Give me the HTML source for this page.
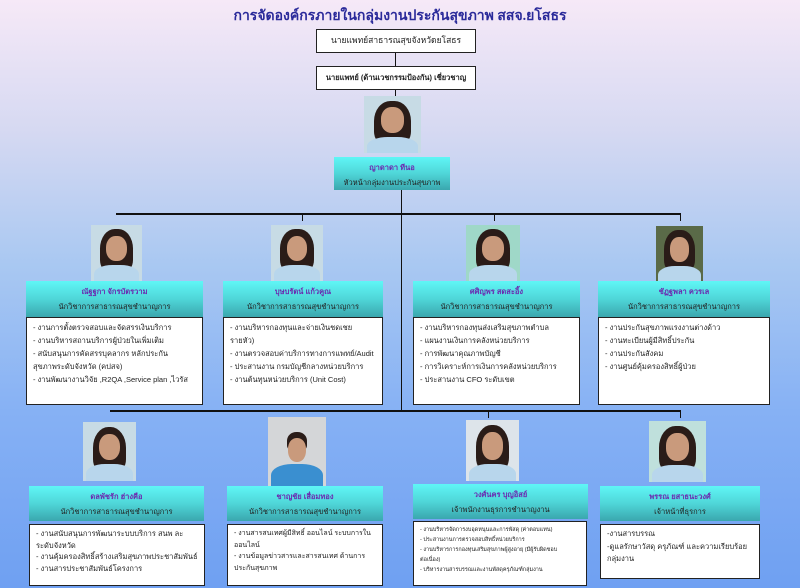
<!DOCTYPE html>
<html><head><meta charset="utf-8"><style>
*{margin:0;padding:0;box-sizing:border-box}
body{width:800px;height:588px;position:relative;overflow:hidden;font-family:"Liberation Sans","Noto Sans CJK SC",sans-serif;background:linear-gradient(180deg,#f6e9f7 0%,#d6d9f2 22%,#a9c8f2 45%,#86b1f4 70%,#6fa0f2 100%)}
.a{position:absolute}
.t{left:0;width:800px;top:5px;text-align:center;color:#2a2a9a;font-size:14px;font-weight:bold;font-family:"Liberation Serif","Noto Serif CJK SC",serif}
.bx{background:#fff;border:1.5px solid #222;font-size:8.5px;text-align:center;color:#222;white-space:nowrap}
.ln{background:#111}
.cy{background:linear-gradient(180deg,#5ff6f6 0%,#4fd6d8 50%,#3aa7ae 100%);text-align:center;font-size:7.5px;color:#222;line-height:15px;padding-top:3px;white-space:nowrap}
.cy b{color:#6b2bb0;font-weight:bold;display:block}
.wb{background:#fff;border:1.5px solid #222;font-size:7.5px;color:#222;line-height:13px;padding:3px 6px}
.ph{overflow:hidden;background:#c7dbe5}
.ph .h{position:absolute;left:18%;top:8%;width:64%;height:78%;background:#2a1c18;border-radius:45% 45% 30% 30%}
.ph .f{position:absolute;left:30%;top:20%;width:40%;height:45%;background:#c99a7c;border-radius:45%}
.ph .s{position:absolute;left:5%;top:72%;width:90%;height:40%;background:#b8d6ec;border-radius:40% 40% 0 0}
</style></head><body>
<div class="a t">การจัดองค์กรภายในกลุ่มงานประกันสุขภาพ สสจ.ยโสธร</div>
<div class="a bx" style="left:316px;top:29px;width:160px;height:24px;line-height:21px">นายแพทย์สาธารณสุขจังหวัดยโสธร</div>
<div class="a ln" style="left:395px;top:53px;width:1px;height:13px"></div>
<div class="a bx" style="left:316px;top:66px;width:160px;height:24px;line-height:21px;font-weight:bold;font-size:7.5px">นายแพทย์ (ด้านเวชกรรมป้องกัน) เชี่ยวชาญ</div>
<div class="a ln" style="left:395px;top:90px;width:1px;height:6px"></div>
<div class="a ph" style="left:364px;top:96px;width:57px;height:57px"><div class="h"></div><div class="f"></div><div class="s"></div></div>
<div class="a cy" style="left:334px;top:157px;width:116px;height:33px"><b>ญาดาดา ทีนอ</b>หัวหน้ากลุ่มงานประกันสุขภาพ</div>
<div class="a ln" style="left:401px;top:190px;width:1px;height:220px"></div>
<div class="a ln" style="left:116px;top:213px;width:565px;height:1.5px"></div>
<div class="a ln" style="left:302px;top:213px;width:1px;height:8px"></div>
<div class="a ln" style="left:494px;top:213px;width:1px;height:8px"></div>
<div class="a ln" style="left:680px;top:213px;width:1px;height:8px"></div>
<div class="a ln" style="left:110px;top:410px;width:571px;height:1.5px"></div>
<div class="a ln" style="left:488px;top:410px;width:1px;height:8px"></div>
<div class="a ln" style="left:680px;top:410px;width:1px;height:8px"></div>

<div class="a ph" style="left:91px;top:225px;width:51px;height:56px"><div class="h"></div><div class="f"></div><div class="s"></div></div>
<div class="a ph" style="left:271px;top:225px;width:52px;height:56px"><div class="h"></div><div class="f"></div><div class="s"></div></div>
<div class="a ph" style="left:466px;top:225px;width:54px;height:56px;background:#9fd8c8"><div class="h"></div><div class="f"></div><div class="s"></div></div>
<div class="a ph" style="left:656px;top:226px;width:47px;height:55px;background:#5a6a48"><div class="h"></div><div class="f"></div><div class="s"></div></div>

<div class="a cy" style="left:26px;top:281px;width:177px;height:36px"><b>ณัฐฐกา จักรบัตรวาม</b>นักวิชาการสาธารณสุขชำนาญการ</div>
<div class="a cy" style="left:223px;top:281px;width:160px;height:36px"><b>บุษบรัตน์ แก้วคูณ</b>นักวิชาการสาธารณสุขชำนาญการ</div>
<div class="a cy" style="left:413px;top:281px;width:167px;height:36px"><b>ศศิญพร สดสะอิ้ง</b>นักวิชาการสาธารณสุขชำนาญการ</div>
<div class="a cy" style="left:598px;top:281px;width:172px;height:36px"><b>ชัฏฐพลา ควรเล</b>นักวิชาการสาธารณสุขชำนาญการ</div>

<div class="a wb" style="left:26px;top:317px;width:177px;height:88px">- งานการตั้งตรวจสอบและจัดสรรเงินบริการ<br>- งานบริหารสถานบริการผู้ป่วยในเพิ่มเติม<br>- สนับสนุนการคัดสรรบุคลากร หลักประกัน<br>สุขภาพระดับจังหวัด (คปสจ)<br>- งานพัฒนางานวิจัย ,R2QA ,Service plan ,ไวรัส</div>
<div class="a wb" style="left:223px;top:317px;width:160px;height:88px">- งานบริหารกองทุนและจ่ายเงินชดเชย<br>รายหัว)<br>- งานตรวจสอบค่าบริการทางการแพทย์/Audit<br>- ประสานงาน กรมบัญชีกลางหน่วยบริการ<br>- งานต้นทุนหน่วยบริการ (Unit Cost)</div>
<div class="a wb" style="left:413px;top:317px;width:167px;height:88px">- งานบริหารกองทุนส่งเสริมสุขภาพตำบล<br>- แผนงานเงินการคลังหน่วยบริการ<br>- การพัฒนาคุณภาพบัญชี<br>- การวิเคราะห์การเงินการคลังหน่วยบริการ<br>- ประสานงาน CFO ระดับเขต</div>
<div class="a wb" style="left:598px;top:317px;width:172px;height:88px">- งานประกันสุขภาพแรงงานต่างด้าว<br>- งานทะเบียนผู้มีสิทธิ์ประกัน<br>- งานประกันสังคม<br>- งานศูนย์คุ้มครองสิทธิ์ผู้ป่วย</div>

<div class="a ph" style="left:83px;top:422px;width:53px;height:59px"><div class="h"></div><div class="f"></div><div class="s"></div></div>
<div class="a ph" style="left:268px;top:417px;width:58px;height:69px;background:#d4d6d8"><div class="h" style="left:32%;top:22%;width:36%;height:28%"></div><div class="f" style="left:34%;top:30%;width:32%;height:35%"></div><div class="s" style="background:#3a8fd0;top:68%"></div></div>
<div class="a ph" style="left:466px;top:420px;width:53px;height:61px;background:#dde4ea"><div class="h"></div><div class="f"></div><div class="s"></div></div>
<div class="a ph" style="left:649px;top:421px;width:57px;height:61px;background:#bfe0dc"><div class="h"></div><div class="f"></div><div class="s"></div></div>

<div class="a cy" style="left:29px;top:486px;width:175px;height:35px"><b>ดลพัชรัก ฮ่างคือ</b>นักวิชาการสาธารณสุขชำนาญการ</div>
<div class="a cy" style="left:227px;top:486px;width:156px;height:35px"><b>ชาญชัย เสื่อมทอง</b>นักวิชาการสาธารณสุขชำนาญการ</div>
<div class="a cy" style="left:413px;top:484px;width:175px;height:35px"><b>วงศ์นคร บุญอิสย์</b>เจ้าพนักงานธุรการชำนาญงาน</div>
<div class="a cy" style="left:600px;top:486px;width:160px;height:35px"><b>พรรณ ยสาธนะวงศ์</b>เจ้าหน้าที่ธุรการ</div>

<div class="a wb" style="left:29px;top:524px;width:176px;height:62px;line-height:11.5px">- งานสนับสนุนการพัฒนาระบบบริการ สนพ ละ<br>ระดับจังหวัด<br>- งานคุ้มครองสิทธิ์สร้างเสริมสุขภาพประชาสัมพันธ์<br>- งานสารประชาสัมพันธ์โครงการ</div>
<div class="a wb" style="left:227px;top:524px;width:156px;height:62px;line-height:11.5px;font-size:7px">- งานสารสนเทศผู้มีสิทธิ์ ออนไลน์ ระบบการใน<br>ออนไลน์<br>- งานข้อมูลข่าวสารและสารสนเทศ ด้านการ<br>ประกันสุขภาพ</div>
<div class="a wb" style="left:413px;top:521px;width:174px;height:65px;font-size:5.5px;line-height:10px">- งานบริหารจัดการงบอุดหนุนและการพัสดุ (ค่าตอบแทน)<br>- ประสานงานการตรวจสอบสิทธิ์หน่วยบริการ<br>- งานบริหารการกองทุนเสริมสุขภาพผู้สูงอายุ (มีผู้รับผิดชอบ<br>ต่อเนื่อง)<br>- บริหารงานสารบรรณและงานพัสดุครุภัณฑ์กลุ่มงาน</div>
<div class="a wb" style="left:600px;top:524px;width:160px;height:55px;line-height:12.5px">-งานสารบรรณ<br>-ดูแลรักษาวัสดุ ครุภัณฑ์ และความเรียบร้อย<br>กลุ่มงาน</div>
</body></html>
